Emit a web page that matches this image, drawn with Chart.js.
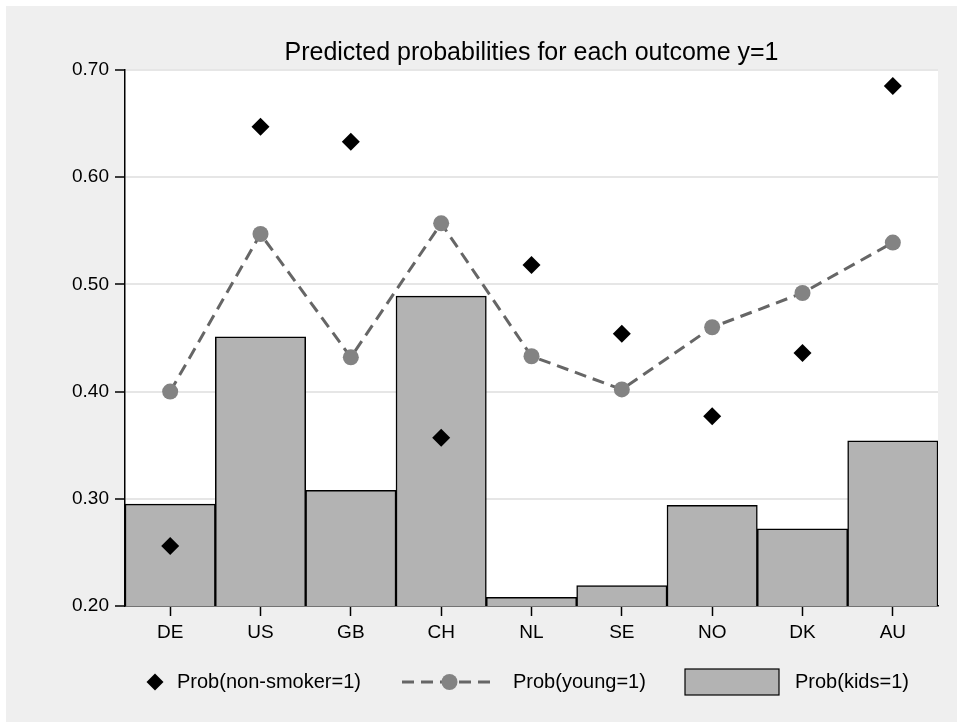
<!DOCTYPE html>
<html>
<head>
<meta charset="utf-8">
<script src="https://cdn.jsdelivr.net/npm/chart.js@4"></script>
<style>
  html, body { margin: 0; padding: 0; background: #ffffff; }
  canvas { display: block; }
</style>
</head>
<body>
<canvas id="c" width="957" height="722"></canvas>
<script>
// Country codes along the x axis
const countries = ['DE', 'US', 'GB', 'CH', 'NL', 'SE', 'NO', 'DK', 'AU'];
// Predicted probabilities per outcome
const probNonSmoker = [0.256, 0.647, 0.633, 0.357, 0.518, 0.454, 0.377, 0.436, 0.685];
const probYoung     = [0.400, 0.547, 0.432, 0.557, 0.433, 0.402, 0.460, 0.492, 0.539];
const probKids      = [0.295, 0.451, 0.308, 0.489, 0.208, 0.219, 0.294, 0.272, 0.354];
// Y axis tick values
const yTickValues = [0.20, 0.30, 0.40, 0.50, 0.60, 0.70];
// Legend entries
const legendLabels = ['Prob(non-smoker=1)', 'Prob(young=1)', 'Prob(kids=1)'];
const titleText = 'Predicted probabilities for each outcome y=1';

const FONT = "'Liberation Sans', Arial, Helvetica, sans-serif";
const BAR_FILL = '#b3b3b3';
const LINE_COLOR = '#666666';
const DOT_COLOR = '#838383';
const DASH = [12, 7];

// Page background, gray frame and white plot region
const backdrop = {
  id: 'backdrop',
  beforeDraw(chart) {
    const { ctx, width, height, chartArea } = chart;
    ctx.save();
    ctx.fillStyle = '#ffffff';
    ctx.fillRect(0, 0, width, height);
    ctx.fillStyle = '#efefef';
    ctx.fillRect(6, 6, width - 6, height - 6);
    ctx.fillStyle = '#ffffff';
    ctx.fillRect(chartArea.left, chartArea.top, chartArea.right - chartArea.left, chartArea.bottom - chartArea.top);
    ctx.restore();
  }
};

// Title centred over the plot region, and the legend row below the axis
const decorations = {
  id: 'decorations',
  afterDraw(chart) {
    const { ctx, chartArea } = chart;
    ctx.save();
    ctx.fillStyle = '#000';
    ctx.font = '25px ' + FONT;
    ctx.textAlign = 'center';
    ctx.textBaseline = 'alphabetic';
    ctx.fillText(titleText, (chartArea.left + chartArea.right) / 2, 60);

    const ly = 682;
    ctx.font = '20px ' + FONT;
    ctx.textAlign = 'left';
    ctx.textBaseline = 'middle';

    // diamond marker
    ctx.beginPath();
    ctx.moveTo(155, ly - 8.5);
    ctx.lineTo(163.5, ly);
    ctx.lineTo(155, ly + 8.5);
    ctx.lineTo(146.5, ly);
    ctx.closePath();
    ctx.fillStyle = '#000';
    ctx.fill();
    ctx.fillText(legendLabels[0], 177, ly);

    // dashed line with dot
    ctx.strokeStyle = LINE_COLOR;
    ctx.lineWidth = 3;
    ctx.setLineDash(DASH);
    ctx.beginPath();
    ctx.moveTo(402, ly);
    ctx.lineTo(497, ly);
    ctx.stroke();
    ctx.setLineDash([]);
    ctx.fillStyle = DOT_COLOR;
    ctx.beginPath();
    ctx.arc(449.5, ly, 8, 0, Math.PI * 2);
    ctx.fill();
    ctx.fillStyle = '#000';
    ctx.fillText(legendLabels[1], 513, ly);

    // bar swatch
    ctx.fillStyle = BAR_FILL;
    ctx.fillRect(685, ly - 13, 94, 26);
    ctx.strokeStyle = '#000';
    ctx.lineWidth = 1.2;
    ctx.strokeRect(685, ly - 13, 94, 26);
    ctx.fillStyle = '#000';
    ctx.fillText(legendLabels[2], 795, ly);
    ctx.restore();
  }
};

new Chart(document.getElementById('c'), {
  type: 'bar',
  data: {
    labels: countries,
    datasets: [
      {
        type: 'line',
        label: legendLabels[0],
        data: probNonSmoker,
        showLine: false,
        pointStyle: 'rectRot',
        pointRadius: 9,
        pointBackgroundColor: '#000',
        pointBorderColor: '#000',
        pointBorderWidth: 0,
        clip: false,
        order: 0
      },
      {
        type: 'line',
        label: legendLabels[1],
        data: probYoung,
        borderColor: LINE_COLOR,
        borderWidth: 3,
        borderDash: DASH,
        tension: 0,
        fill: false,
        pointStyle: 'circle',
        pointRadius: 8,
        pointBackgroundColor: DOT_COLOR,
        pointBorderColor: DOT_COLOR,
        pointBorderWidth: 0,
        clip: false,
        order: 1
      },
      {
        type: 'bar',
        label: legendLabels[2],
        data: probKids,
        backgroundColor: BAR_FILL,
        borderColor: '#000',
        borderWidth: 1.5,
        borderSkipped: false,
        barPercentage: 1,
        categoryPercentage: 1,
        order: 2
      }
    ]
  },
  options: {
    responsive: false,
    devicePixelRatio: 1,
    animation: false,
    layout: { padding: { left: 6, top: 70, right: 19, bottom: 66 } },
    plugins: {
      legend: { display: false },
      title: { display: false },
      tooltip: { enabled: false }
    },
    scales: {
      x: {
        offset: true,
        afterFit(scale) { scale.height = 50; },
        grid: {
          display: true,
          drawOnChartArea: false,
          drawTicks: true,
          offset: false,
          tickLength: 10,
          tickColor: '#000',
          tickWidth: 1.5
        },
        border: { display: true, color: '#000', width: 1.5 },
        ticks: {
          color: '#000',
          font: { family: FONT, size: 19 },
          padding: 5,
          maxRotation: 0,
          autoSkip: false
        }
      },
      y: {
        min: yTickValues[0],
        max: yTickValues[yTickValues.length - 1],
        afterFit(scale) { scale.width = 119; },
        afterBuildTicks(scale) {
          scale.ticks = yTickValues.map(v => ({ value: v }));
        },
        grid: {
          color: '#e6e6e6',
          lineWidth: 2,
          drawTicks: true,
          tickLength: 10,
          tickColor: '#000',
          tickWidth: 1.5
        },
        border: { display: true, color: '#000', width: 1.5 },
        ticks: {
          color: '#000',
          font: { family: FONT, size: 19 },
          padding: 6,
          callback: v => Number(v).toFixed(2)
        }
      }
    }
  },
  plugins: [backdrop, decorations]
});
</script>
</body>
</html>
